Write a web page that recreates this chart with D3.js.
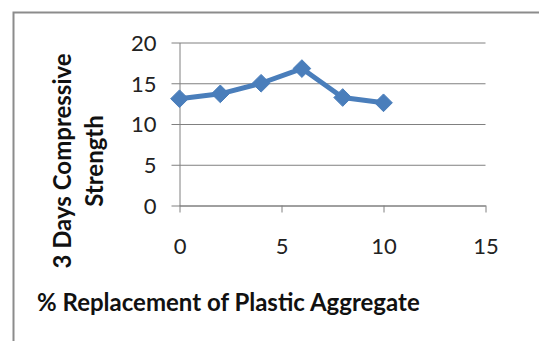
<!DOCTYPE html>
<html><head><meta charset="utf-8">
<script src="https://cdn.jsdelivr.net/npm/d3@7"></script>
<style>body{margin:0;background:#fff}svg{display:block}</style>
</head><body>
<svg id="c" width="539" height="341"></svg>
<script>
const xValues = [0, 2, 4, 6, 8, 10];
const strength = [13.1, 13.7, 15.0, 16.8, 13.25, 12.6];
const xTicks = [0, 5, 10, 15];
const yTicks = [0, 5, 10, 15, 20];
const xTitle = "% Replacement of Plastic Aggregate";
const yTitleLines = ["3 Days Compressive", "Strength"];

const svg = d3.select("#c");
svg.append("rect").attr("x", 13.5).attr("y", 12.5).attr("width", 540).attr("height", 340)
  .attr("fill", "none").attr("stroke", "#8c8c8c").attr("stroke-width", 2);

const x = d3.scaleLinear().domain([0, 15]).range([179.5, 485.5]);
const y = d3.scaleLinear().domain([0, 20]).range([205.5, 42.5]);
const font = "Lato, 'Open Sans', sans-serif";

const gy = svg.append("g").attr("transform", "translate(179.5,0)")
  .call(d3.axisLeft(y).tickValues(yTicks).tickSize(-306).tickSizeOuter(0).tickPadding(23));
gy.select(".domain").attr("stroke", "#808080");
gy.selectAll(".tick line").attr("stroke", "#808080").attr("x1", -8);
gy.selectAll(".tick text").attr("font-family", font).attr("font-size", 22).attr("fill", "#222").attr("dy", "0.36em");

const gx = svg.append("g").attr("transform", "translate(0,205.5)")
  .call(d3.axisBottom(x).tickValues(xTicks).tickSize(-163).tickSizeOuter(0).tickPadding(33));
gx.select(".domain").attr("stroke", "#808080");
gx.selectAll(".tick line").attr("stroke", "#808080").attr("y2", 7);
gx.selectAll(".tick text").attr("font-family", font).attr("font-size", 22).attr("fill", "#222");

const pts = xValues.map((v, i) => [x(v), y(strength[i])]);
svg.append("path").attr("d", d3.line()(pts)).attr("fill", "none")
  .attr("stroke", "#4a7ebb").attr("stroke-width", 5).attr("stroke-linejoin", "round");
svg.selectAll(".m").data(pts).enter().append("path")
  .attr("transform", d => `translate(${d[0]},${d[1]})`)
  .attr("d", d3.symbol(d3.symbolDiamond2, 200)())
  .attr("fill", "#4a7ebb").attr("stroke", "#4a7ebb").attr("stroke-width", 1);

const yt = svg.append("text").attr("transform", "translate(0,161) rotate(-90)")
  .attr("font-family", font).attr("font-weight", "bold").attr("font-size", 24)
  .attr("fill", "#111").attr("text-anchor", "middle");
yt.selectAll("tspan").data(yTitleLines).enter().append("tspan")
  .attr("x", 0).attr("y", (d, i) => 71 + i * 32).text(d => d);

svg.append("text").attr("x", 37).attr("y", 311).attr("font-family", font)
  .attr("font-weight", "bold").attr("font-size", 24).attr("fill", "#111").text(xTitle);
</script>
</body></html>
